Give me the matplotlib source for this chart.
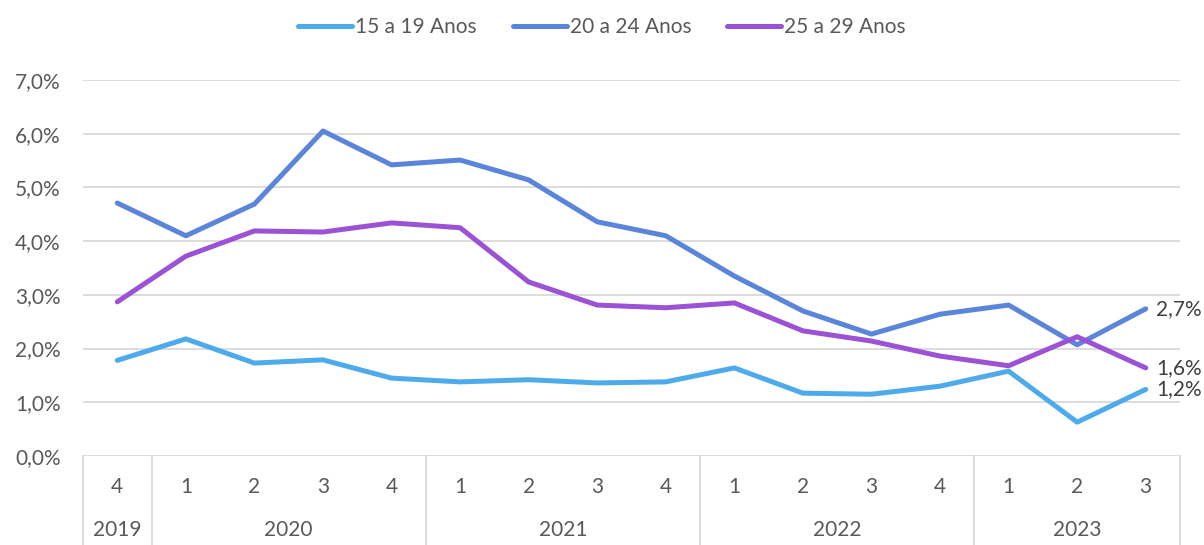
import numpy as np
import matplotlib
matplotlib.use("Agg")
import matplotlib.pyplot as plt
import matplotlib.transforms as mtransforms

plt.rcParams['font.family'] = ['Lato', 'DejaVu Sans']

# Quarters from 2019 Q4 to 2023 Q3
quarters = ["4", "1", "2", "3", "4", "1", "2", "3", "4", "1", "2", "3", "4", "1", "2", "3"]
years = ["2019", "2020", "2021", "2022", "2023"]
year_spans = [(0, 0), (1, 4), (5, 8), (9, 12), (13, 15)]

s15_19 = [1.78, 2.18, 1.73, 1.79, 1.45, 1.38, 1.42, 1.36, 1.38, 1.64, 1.17, 1.15, 1.30, 1.58, 0.63, 1.24]
s20_24 = [4.71, 4.10, 4.69, 6.05, 5.42, 5.51, 5.14, 4.36, 4.10, 3.35, 2.70, 2.27, 2.64, 2.81, 2.07, 2.74]
s25_29 = [2.87, 3.72, 4.19, 4.17, 4.34, 4.25, 3.24, 2.81, 2.76, 2.85, 2.33, 2.14, 1.86, 1.68, 2.22, 1.64]

series = [("15 a 19 Anos", s15_19, "#4DABEB"),
          ("20 a 24 Anos", s20_24, "#5B85DB"),
          ("25 a 29 Anos", s25_29, "#9B52D4")]

W, H = 1204, 545
fig = plt.figure(figsize=(W / 100, H / 100), dpi=100)
ax = fig.add_axes([83 / W, (H - 456) / H, (1180 - 83) / W, (456 - 80) / H])

x = np.arange(len(quarters))
txt = "#595959"
grid = "#D9D9D9"
fs = 15

for name, vals, col in series:
    ax.plot(x, vals, color=col, lw=3.6, label=name, solid_capstyle="round", solid_joinstyle="round")
    ax.text(x[-1] + 0.15, vals[-1], f"{vals[-1]:.1f}%".replace(".", ","),
            color="#404040", fontsize=fs, va="center", ha="left")

ax.set_xlim(-0.5, len(quarters) - 0.5)
ax.set_ylim(0, 7)
ax.set_yticks(np.arange(0, 8))
ax.set_yticklabels([f"{v:.1f}%".replace(".", ",") for v in range(8)], color=txt, fontsize=fs)
ax.yaxis.grid(True, color=grid, lw=1.3)
ax.set_axisbelow(True)
for sp in ax.spines.values():
    sp.set_visible(False)
ax.tick_params(axis="y", length=0, pad=16)
ax.tick_params(axis="x", length=0)
ax.set_xticks([])

# category table below the axis
trans = mtransforms.blended_transform_factory(ax.transData, ax.transAxes)
ah = 456 - 80
row_bottom = -(545 - 456) / ah
for i, q in enumerate(quarters):
    ax.text(x[i], -(487 - 456) / ah, q, transform=trans, ha="center", va="center",
            color=txt, fontsize=fs)
for yr, (a, b) in zip(years, year_spans):
    ax.text((a + b) / 2, -(530 - 456) / ah, yr, transform=trans, ha="center", va="center",
            color=txt, fontsize=fs)
seps = [-0.5] + [b + 0.5 for a, b in year_spans]
for s in seps:
    ax.plot([s, s], [0, row_bottom], transform=trans, color=grid, lw=1.3, clip_on=False)

leg = fig.legend(loc="center", bbox_to_anchor=(0.5, 1 - 27 / H), ncol=3, frameon=False,
                 fontsize=fs, handlelength=2.6, handletextpad=0.15, columnspacing=1.7)
for t in leg.get_texts():
    t.set_color(txt)

fig.savefig("out.png", dpi=100)
